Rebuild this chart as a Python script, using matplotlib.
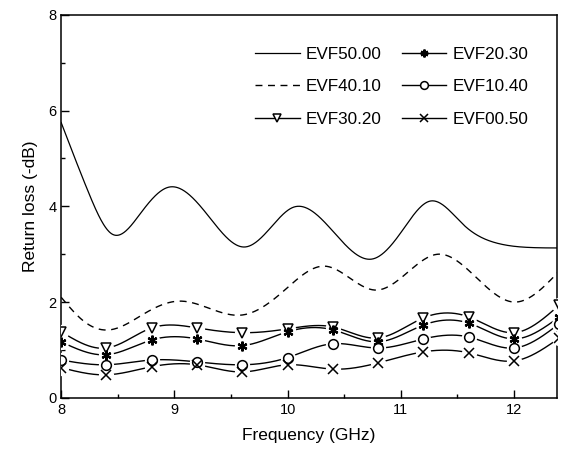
import numpy as np
import matplotlib
matplotlib.use("Agg")
import matplotlib.pyplot as plt
from matplotlib.ticker import MultipleLocator

plt.rcParams['font.family'] = ['Liberation Sans', 'DejaVu Sans']

# ---- data ----
# EVF50.00 (solid, no markers): key points
x50 = [8.0, 8.24, 8.45, 8.7, 8.95, 9.3, 9.62, 9.83, 10.05, 10.4, 10.75, 11.0,
       11.26, 11.56, 11.85, 12.14, 12.4]
y50 = [5.75, 4.3, 3.42, 3.85, 4.4, 3.8, 3.15, 3.5, 3.98, 3.48, 2.9, 3.45,
       4.11, 3.6, 3.23, 3.14, 3.13]
# EVF40.10 (dashed, no markers)
x40 = [8.0, 8.2, 8.43, 8.75, 9.05, 9.6, 9.95, 10.33, 10.78, 11.05, 11.33,
       11.65, 12.0, 12.4]
y40 = [2.1, 1.6, 1.42, 1.78, 2.02, 1.73, 2.2, 2.75, 2.25, 2.6, 3.0,
       2.55, 2.0, 2.65]

# Marker series, measured at these frequencies
freq = [8.0, 8.4, 8.8, 9.2, 9.6, 10.0, 10.4, 10.8, 11.2, 11.6, 12.0, 12.4]
evf30_20 = [1.38, 1.04, 1.46, 1.46, 1.36, 1.44, 1.48, 1.25, 1.67, 1.69, 1.36, 1.94]
evf20_30 = [1.17, 0.90, 1.21, 1.23, 1.09, 1.38, 1.42, 1.17, 1.52, 1.56, 1.23, 1.69]
evf10_40 = [0.79, 0.69, 0.79, 0.75, 0.69, 0.84, 1.13, 1.04, 1.23, 1.27, 1.04, 1.55]
evf00_50 = [0.63, 0.48, 0.65, 0.69, 0.54, 0.69, 0.60, 0.73, 0.96, 0.94, 0.77, 1.25]

labels = ['EVF50.00', 'EVF40.10', 'EVF30.20', 'EVF20.30', 'EVF10.40', 'EVF00.50']
xticks = [8, 9, 10, 11, 12]
yticks = [0, 2, 4, 6, 8]


# ---- smooth curve helper (drawing only) ----
def natural_spline(x, y, xs):
    x = np.asarray(x, float); y = np.asarray(y, float)
    n = len(x); h = np.diff(x)
    A = np.zeros((n, n)); b = np.zeros(n)
    A[0, 0] = A[-1, -1] = 1
    for i in range(1, n - 1):
        A[i, i - 1] = h[i - 1]; A[i, i] = 2 * (h[i - 1] + h[i]); A[i, i + 1] = h[i]
        b[i] = 3 * ((y[i + 1] - y[i]) / h[i] - (y[i] - y[i - 1]) / h[i - 1])
    c = np.linalg.solve(A, b)
    bb = (y[1:] - y[:-1]) / h - h * (2 * c[:-1] + c[1:]) / 3
    dd = (c[1:] - c[:-1]) / (3 * h)
    idx = np.clip(np.searchsorted(x, xs) - 1, 0, n - 2)
    dx = xs - x[idx]
    return y[idx] + bb[idx] * dx + c[idx] * dx**2 + dd[idx] * dx**3


fig = plt.figure(figsize=(5.61, 4.49), dpi=100)
ax = fig.add_axes([0.109, 0.114, 0.884, 0.853])

xs = np.linspace(8.0, 12.4, 800)
l50, = ax.plot(xs, natural_spline(x50, y50, xs), color='black', lw=0.9, label=labels[0])
l40, = ax.plot(xs, natural_spline(x40, y40, xs), color='black', lw=1.0,
               linestyle=(0, (5, 4)), label=labels[1])

handles = [l50, l40]
series = [(evf30_20, 'v', labels[2]), (evf20_30, (6, 2, 0), labels[3]),
          (evf10_40, 'o', labels[4]), (evf00_50, 'x', labels[5])]
for vals, mk, lab in series:
    ax.plot(xs, natural_spline(freq, vals, xs), color='black', lw=1.0, zorder=2)
    ax.plot(freq, vals, linestyle='none', marker='o', ms=11, mfc='white',
            mec='none', zorder=3)
for vals, mk, lab in series:
    mw = 1.6 if mk == (6, 2, 0) else 1.1
    ax.plot(freq, vals, linestyle='none', marker=mk, ms=7, mfc='white',
            mec='black', mew=mw, zorder=4)
    proxy, = ax.plot([], [], color='black', lw=1.0, marker=mk, ms=7, mfc='white',
                     mec='black', mew=mw, label=lab)
    handles.append(proxy)

ax.set_xlim(8, 12.38)
ax.set_ylim(0, 8)
ax.set_xticks(xticks)
ax.set_yticks(yticks)
ax.xaxis.set_minor_locator(MultipleLocator(0.5))
ax.yaxis.set_minor_locator(MultipleLocator(1))
ax.tick_params(which='both', direction='in', top=False, right=False, labelsize=10.5)
ax.tick_params(which='major', length=6, width=1)
ax.tick_params(which='minor', length=3, width=1)
for s in ax.spines.values():
    s.set_linewidth(1.1)
ax.set_xlabel('Frequency (GHz)', fontsize=12.5, labelpad=8)
ax.set_ylabel('Return loss (-dB)', fontsize=12.5, labelpad=7)

ax.legend(handles=handles, labels=[h.get_label() for h in handles], ncol=2,
          frameon=False, loc='upper right', bbox_to_anchor=(0.942, 0.915),
          borderaxespad=0, borderpad=0,
          fontsize=12.3, handlelength=2.6, labelspacing=1.0, columnspacing=1.2,
          handletextpad=0.35, markerscale=0.8)

fig.savefig('out.png', dpi=100)
